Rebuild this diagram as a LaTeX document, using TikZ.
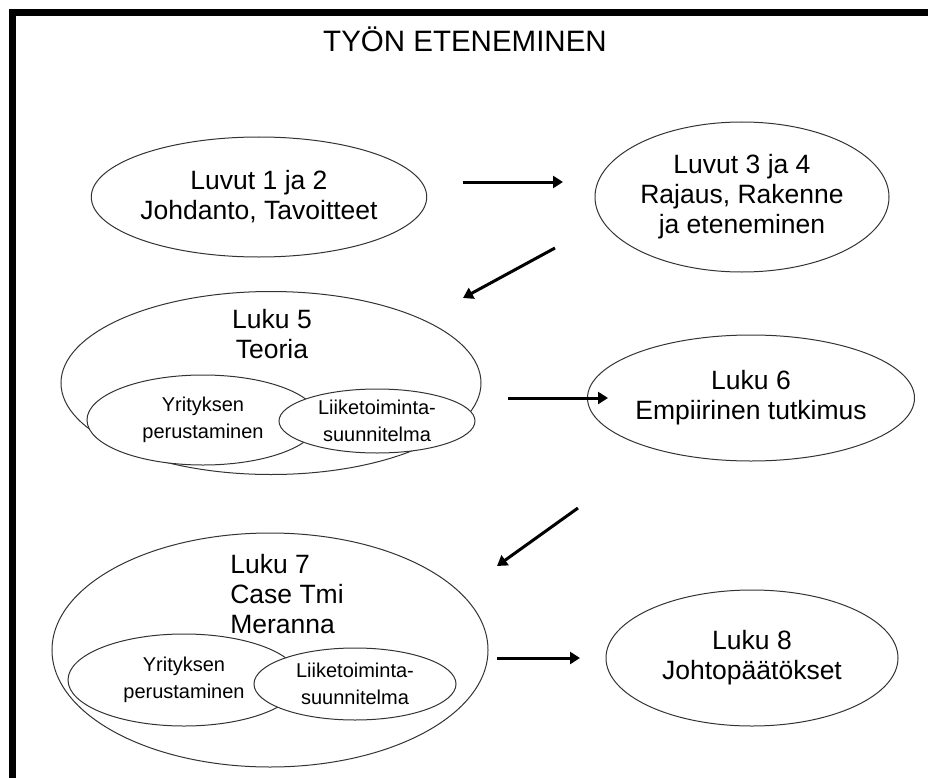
\documentclass[tikz,border=0pt]{standalone}
\usepackage{fontspec}
\setmainfont{Liberation Sans}
\usetikzlibrary{shapes.geometric, arrows.meta}

\begin{document}
\begin{tikzpicture}[x=1bp, y=-1bp,
  >={Triangle[length=10bp, width=12bp]},
  oval/.style={ellipse, draw=black!80, line width=1bp, fill=white, inner sep=0pt, align=center},
  big/.style={font=\fontsize{26.5bp}{30bp}\selectfont, align=center},
  small/.style={font=\fontsize{20bp}{27bp}\selectfont},
  arr/.style={->, line width=3bp}]
\useasboundingbox (0,0) rectangle (928,778);
% frame
\draw[line width=7bp] (12,778) -- (12,12.5) -- (928,12.5);
\node[font=\fontsize{29.5bp}{32bp}\selectfont] (title) at (465,39) {TYÖN ETENEMINEN};
% top row
\node[oval, big, minimum width=292bp, minimum height=120bp] (e1) at (259,197) {Luvut 1 ja 2\\Johdanto, Tavoitteet};
\node[oval, big, minimum width=294bp, minimum height=150bp] (e2) at (742,197) {Luvut 3 ja 4\\Rajaus, Rakenne\\ja eteneminen};
% theory
\node[oval, minimum width=420bp, minimum height=183bp] (e3) at (271,383) {};
\node[big] (t3) at (272,334) {Luku 5\\Teoria};
\node[oval, small, minimum width=232bp, minimum height=90bp] (e3a) at (203,420) {Yrityksen\\perustaminen};
\node[oval, small, minimum width=196bp, minimum height=64bp] (e3b) at (377,421) {Liiketoiminta-\\suunnitelma};
\node[oval, big, minimum width=258bp, minimum height=126bp] (e4) at (751,398) {Luku 6\\Empiirinen tutkimus};
% case
\node[oval, minimum width=436bp, minimum height=234bp] (e5) at (270,650) {};
\node[big, align=left] (t5) at (287,594) {Luku 7\\Case Tmi\\Meranna};
\node[oval, small, minimum width=232bp, minimum height=92bp] (e5a) at (184,680) {Yrityksen\\perustaminen};
\node[oval, small, minimum width=202bp, minimum height=72bp] (e5b) at (355,684) {Liiketoiminta-\\suunnitelma};
\node[oval, big, minimum width=292bp, minimum height=136bp] (e6) at (752,658) {Luku 8\\Johtopäätökset};
% arrows
\coordinate (a1) at (463,182); \coordinate (a2) at (563,182);
\coordinate (b1) at (555,248); \coordinate (b2) at (463,298);
\coordinate (c1) at (508,398); \coordinate (c2) at (608,398);
\coordinate (d1) at (578,508); \coordinate (d2) at (497,566);
\coordinate (f1) at (497,658); \coordinate (f2) at (580,658);
\draw[arr] (a1) -- (a2);
\draw[arr] (b1) -- (b2);
\draw[arr] (c1) -- (c2);
\draw[arr] (d1) -- (d2);
\draw[arr] (f1) -- (f2);
\end{tikzpicture}
\end{document}
